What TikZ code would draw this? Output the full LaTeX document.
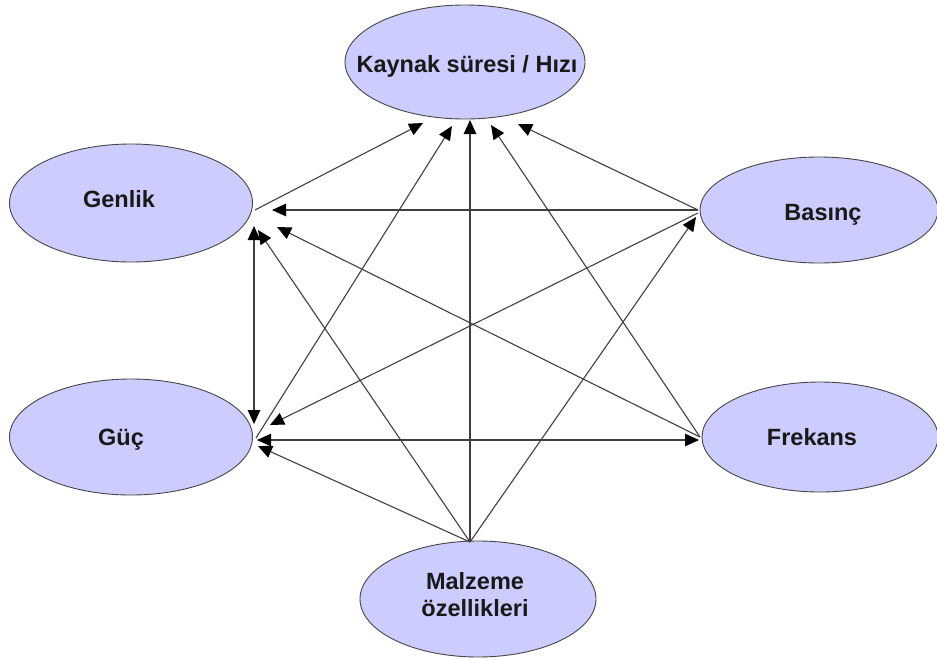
\documentclass[tikz,border=0pt]{standalone}
\usepackage{fontspec}
\setmainfont{Liberation Sans}
\usetikzlibrary{arrows.meta,calc,shapes.geometric}
\definecolor{ovalfill}{RGB}{204,204,255}
\definecolor{ovalrim}{RGB}{70,70,70}
\begin{document}
\begin{tikzpicture}[x=1pt,y=-1pt,
  bubble/.style={ellipse, draw=ovalrim, line width=0.9pt, fill=ovalfill,
                 inner sep=0pt},
  caption/.style={font=\fontsize{23.5}{27}\selectfont\bfseries, text=black!90,
                  align=center, inner sep=0pt},
  tip/.tip={Triangle[length=14pt,width=12.5pt,color=black]},
  link/.style={draw=black!75, line width=1.1pt, -tip},
  twoway/.style={draw=black!75, line width=1.1pt, tip-tip}]

\useasboundingbox (0,0) rectangle (937,659);

% ovals
\node[bubble, minimum width=240pt, minimum height=114pt] (k)   at (465,62)  {};
\node[bubble, minimum width=243pt, minimum height=118pt] (gen) at (131,203) {};
\node[bubble, minimum width=238pt, minimum height=106pt] (bas) at (819,210) {};
\node[bubble, minimum width=243pt, minimum height=116pt] (guc) at (131,437) {};
\node[bubble, minimum width=236pt, minimum height=110pt] (fre) at (820,437) {};
\node[bubble, minimum width=236pt, minimum height=116pt] (mal) at (478,599) {};

% labels
\node[caption, anchor=base] (k-t)   at (467,72)  {Kaynak süresi / Hızı};
\node[caption, anchor=base] (gen-t) at (119,207) {Genlik};
\node[caption, anchor=base] (bas-t) at (823,220) {Basınç};
\node[caption, anchor=base] (guc-t) at (121,445) {Güç};
\node[caption, anchor=base] (fre-t) at (812,445) {Frekans};
\node[caption]              (mal-t) at (475,595) {Malzeme\\özellikleri};

% connection points
\coordinate (k-a) at ($(k)+(-42,61)$);
\coordinate (k-b) at ($(k)+(-13,64)$);
\coordinate (k-c) at ($(k)+(5,58)$);
\coordinate (k-d) at ($(k)+(26,63)$);
\coordinate (k-e) at ($(k)+(53,62)$);

\coordinate (gen-out) at ($(gen)+(124,7)$);
\coordinate (gen-b)   at ($(gen)+(141,7)$);
\coordinate (gen-f)   at ($(gen)+(146,24)$);
\coordinate (gen-m)   at ($(gen)+(127,27)$);
\coordinate (gen-v)   at ($(gen)+(123,23)$);

\coordinate (guc-out) at ($(guc)+(125,1)$);
\coordinate (guc-v)   at ($(guc)+(123,-13)$);
\coordinate (guc-b)   at ($(guc)+(139,-12)$);
\coordinate (guc-h)   at ($(guc)+(126,3)$);
\coordinate (guc-m)   at ($(guc)+(127,9)$);

\coordinate (bas-out) at ($(bas)+(-121,0)$);
\coordinate (bas-low) at ($(bas)+(-121,3)$);
\coordinate (bas-m)   at ($(bas)+(-123,7)$);

\coordinate (fre-out) at ($(fre)+(-120,0)$);
\coordinate (fre-h)   at ($(fre)+(-121,3)$);

\coordinate (mal-top) at ($(mal)+(-8,-57)$);

% connectors
\draw[link] (gen-out) -- (k-a);
\draw[link] (guc-out) -- (k-b);
\draw[link] (mal-top) -- (k-c);
\draw[link] (fre-out) -- (k-d);
\draw[link] (bas-out) -- (k-e);

\draw[link] (bas-out) -- (gen-b);
\draw[link] (fre-out) -- (gen-f);
\draw[link] (mal-top) -- (gen-m);
\draw[twoway] (gen-v) -- (guc-v);

\draw[link] (bas-low) -- (guc-b);
\draw[twoway] (guc-h) -- (fre-h);
\draw[link] (mal-top) -- (guc-m);

\draw[link] (mal-top) -- (bas-m);
\end{tikzpicture}
\end{document}
